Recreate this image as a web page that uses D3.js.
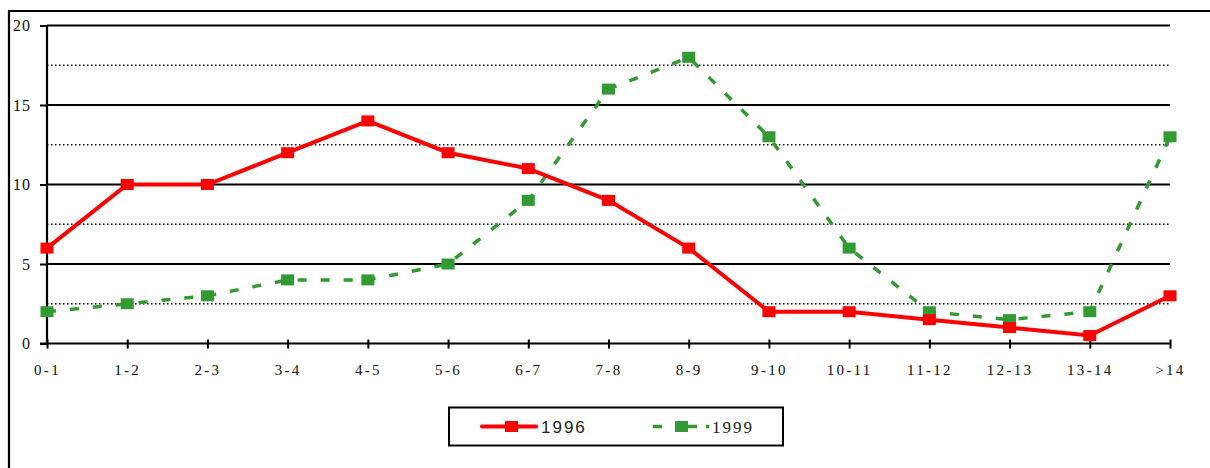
<!DOCTYPE html>
<html>
<head>
<meta charset="utf-8">
<script src="https://cdn.jsdelivr.net/npm/d3@7"></script>
<style>
  html, body { margin: 0; padding: 0; background: #fff; }
  svg { display: block; }
</style>
</head>
<body>
<svg id="chart" width="1210" height="468"></svg>
<script>
// Age classes (years) along the x axis
const categories = ["0-1", "1-2", "2-3", "3-4", "4-5", "5-6", "6-7", "7-8", "8-9", "9-10", "10-11", "11-12", "12-13", "13-14", ">14"];
// Share per age class, per survey year
const values1996 = [6, 10, 10, 12, 14, 12, 11, 9, 6, 2, 2, 1.5, 1, 0.5, 3];
const values1999 = [2, 2.5, 3, 4, 4, 5, 9, 16, 18, 13, 6, 2, 1.5, 2, 13];
const yTicks = [0, 5, 10, 15, 20];
const yMinorLines = [2.5, 7.5, 12.5, 17.5];
const seriesNames = ["1996", "1999"];

const svg = d3.select("#chart");
const plotLeft = 47, plotRight = 1170, plotTop = 25.5, plotBottom = 343.5;

const x = d3.scalePoint().domain(categories).range([plotLeft, plotRight]);
const y = d3.scaleLinear().domain([0, 20]).range([plotBottom, plotTop]);

// Outer frame (top and left edges)
svg.append("path")
  .attr("d", `M9,468V11H1210`)
  .attr("fill", "none").attr("stroke", "#000").attr("stroke-width", 2.2);

// Dotted half-step lines
svg.append("g").selectAll("line").data(yMinorLines).join("line")
  .attr("x1", plotLeft).attr("x2", plotRight)
  .attr("y1", d => y(d)).attr("y2", d => y(d))
  .attr("stroke", "#000").attr("stroke-width", 1.5)
  .attr("stroke-dasharray", "1.5,2.5");

// Solid major gridlines
svg.append("g").selectAll("line").data(yTicks.filter(d => d > 0)).join("line")
  .attr("x1", plotLeft).attr("x2", plotRight)
  .attr("y1", d => y(d)).attr("y2", d => y(d))
  .attr("stroke", "#000").attr("stroke-width", 2);

// Y axis
const yAxis = svg.append("g")
  .attr("transform", `translate(${plotLeft},0)`)
  .call(d3.axisLeft(y).tickValues(yTicks).tickSize(7).tickPadding(9).tickFormat(d3.format("d")));
yAxis.select(".domain").attr("stroke", "#000").attr("stroke-width", 2.2).attr("d", `M0,${plotBottom}V${plotTop}`);
yAxis.selectAll(".tick line").attr("stroke", "#000").attr("stroke-width", 2);
yAxis.selectAll(".tick text")
  .attr("font-family", "'Liberation Serif', 'DejaVu Serif', serif")
  .attr("font-size", 16).attr("fill", "#111").attr("letter-spacing", 1);

// X axis
const xAxis = svg.append("g")
  .attr("transform", `translate(0,${plotBottom})`)
  .call(d3.axisBottom(x).tickSize(5).tickPadding(16));
xAxis.select(".domain").attr("stroke", "#000").attr("stroke-width", 2.2).attr("d", `M40,0H${plotRight}`);
xAxis.selectAll(".tick line").attr("stroke", "#000").attr("stroke-width", 2).attr("y1", -4).attr("y2", 5);
xAxis.selectAll(".tick text")
  .attr("font-family", "'Liberation Serif', 'DejaVu Serif', serif")
  .attr("font-size", 15).attr("fill", "#111").attr("letter-spacing", 2.3);

const line = d3.line().x((d, i) => x(categories[i])).y(d => y(d));

// 1999 series: green dashed
svg.append("path").datum(values1999)
  .attr("d", line).attr("fill", "none")
  .attr("stroke", "#339933").attr("stroke-width", 3.5)
  .attr("stroke-dasharray", "9,14");
svg.append("g").selectAll("rect").data(values1999).join("rect")
  .attr("x", (d, i) => x(categories[i]) - 6.5).attr("y", d => y(d) - 5.5)
  .attr("width", 13).attr("height", 11).attr("fill", "#339933");

// 1996 series: red solid
svg.append("path").datum(values1996)
  .attr("d", line).attr("fill", "none")
  .attr("stroke", "#ff0000").attr("stroke-width", 4);
svg.append("g").selectAll("rect").data(values1996).join("rect")
  .attr("x", (d, i) => x(categories[i]) - 6.5).attr("y", d => y(d) - 5.5)
  .attr("width", 13).attr("height", 11).attr("fill", "#ff0000");

// Legend
const legend = svg.append("g");
legend.append("rect")
  .attr("x", 449).attr("y", 407.5).attr("width", 334).attr("height", 38)
  .attr("fill", "#fff").attr("stroke", "#000").attr("stroke-width", 2);

const ly = 426.5;
legend.append("line")
  .attr("x1", 482).attr("x2", 536).attr("y1", ly).attr("y2", ly)
  .attr("stroke", "#ff0000").attr("stroke-width", 4).attr("stroke-linecap", "round");
legend.append("rect").attr("x", 505).attr("y", ly - 5.5).attr("width", 13).attr("height", 11).attr("fill", "#ff0000");
legend.append("text").attr("x", 541).attr("y", ly + 6)
  .attr("font-family", "'Liberation Sans', Arial, sans-serif").attr("font-size", 17)
  .attr("letter-spacing", 2).attr("fill", "#222").text(seriesNames[0]);

legend.append("line")
  .attr("x1", 653).attr("x2", 709).attr("y1", ly).attr("y2", ly)
  .attr("stroke", "#339933").attr("stroke-width", 3.5).attr("stroke-dasharray", "9,12,0,14,9");
legend.append("rect").attr("x", 675).attr("y", ly - 5.5).attr("width", 13).attr("height", 11).attr("fill", "#339933");
legend.append("text").attr("x", 712).attr("y", ly + 6)
  .attr("font-family", "'Liberation Serif', 'DejaVu Serif', serif").attr("font-size", 17)
  .attr("letter-spacing", 2).attr("fill", "#222").text(seriesNames[1]);
</script>
</body>
</html>
